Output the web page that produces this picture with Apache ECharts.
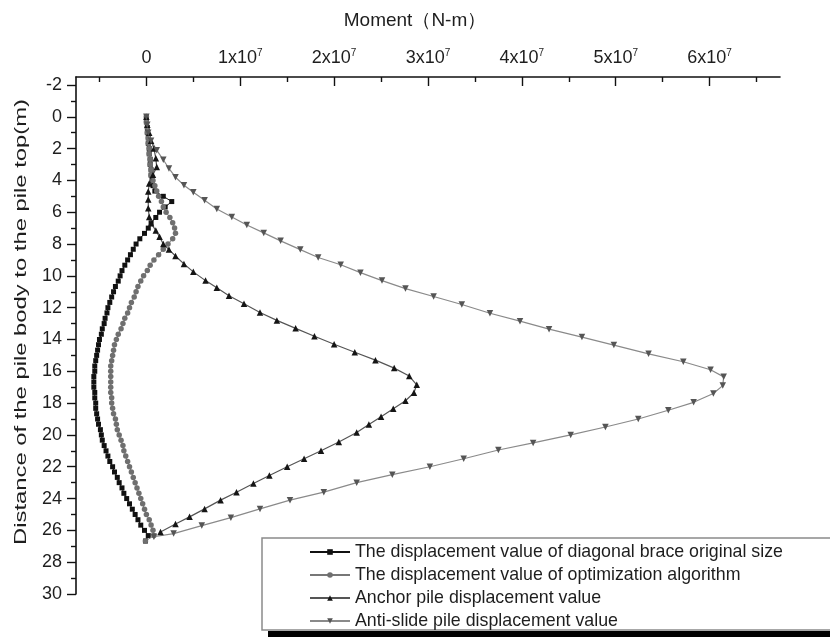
<!DOCTYPE html>
<html>
<head>
<meta charset="utf-8">
<script src="https://cdn.jsdelivr.net/npm/echarts@6/dist/echarts.min.js"></script>
<style>
  html, body { margin: 0; padding: 0; background: #fff; }
  #chart { width: 830px; height: 637px; }
</style>
</head>
<body>
<div id="chart"></div>
<script>
// Bending moment along the pile, moments given in units of 1x10^7 N·m
const UNIT = 1e7;

// Node depths (m) shared by the two brace curves
const braceDepth = [0, 0.33, 0.67, 1.0, 1.33, 1.67, 2.0, 2.33, 2.67, 3.0, 3.33, 3.67, 4.0, 4.33, 4.67,
  5.0, 5.33, 5.67, 6.0, 6.33, 6.67, 7.0, 7.33, 7.67, 8.0, 8.33, 8.67, 9.0, 9.33, 9.67,
  10.0, 10.33, 10.67, 11.0, 11.33, 11.67, 12.0, 12.33, 12.67, 13.0, 13.33, 13.67, 14.0, 14.33, 14.67,
  15.0, 15.33, 15.67, 16.0, 16.33, 16.67, 17.0, 17.33, 17.67, 18.0, 18.33, 18.67, 19.0, 19.33, 19.67,
  20.0, 20.33, 20.67, 21.0, 21.33, 21.67, 22.0, 22.33, 22.67, 23.0, 23.33, 23.67, 24.0, 24.33, 24.67,
  25.0, 25.33, 25.67, 26.0, 26.33, 26.67];

// Diagonal brace, original size
const originalMoment = [0, 0.00, 0.01, 0.01, 0.02, 0.02, 0.03, 0.03, 0.04, 0.04, 0.05, 0.05, 0.06, 0.07, 0.09,
  0.18, 0.27, 0.20, 0.14, 0.10, 0.05, 0.02, -0.02, -0.07, -0.11, -0.14, -0.17, -0.20, -0.23, -0.26,
  -0.28, -0.30, -0.33, -0.35, -0.37, -0.39, -0.41, -0.42, -0.44, -0.45, -0.47, -0.48, -0.50, -0.51, -0.52,
  -0.53, -0.54, -0.55, -0.55, -0.56, -0.56, -0.56, -0.55, -0.55, -0.54, -0.54, -0.53, -0.52, -0.51, -0.49,
  -0.48, -0.47, -0.45, -0.43, -0.41, -0.39, -0.36, -0.34, -0.31, -0.29, -0.26, -0.24, -0.21, -0.18, -0.15,
  -0.12, -0.09, -0.06, -0.02, 0.02, -0.01];

// Diagonal brace after the optimization algorithm
const optimizedMoment = [0, 0.00, 0.01, 0.01, 0.02, 0.02, 0.03, 0.03, 0.04, 0.04, 0.05, 0.05, 0.07, 0.09, 0.11,
  0.13, 0.16, 0.18, 0.21, 0.25, 0.28, 0.30, 0.31, 0.28, 0.23, 0.18, 0.13, 0.08, 0.04, 0.01,
  -0.03, -0.06, -0.09, -0.11, -0.13, -0.16, -0.18, -0.20, -0.23, -0.25, -0.27, -0.30, -0.32, -0.34, -0.35,
  -0.36, -0.37, -0.38, -0.38, -0.38, -0.38, -0.38, -0.38, -0.37, -0.37, -0.36, -0.35, -0.33, -0.32, -0.31,
  -0.29, -0.27, -0.25, -0.24, -0.22, -0.20, -0.18, -0.16, -0.14, -0.12, -0.10, -0.08, -0.06, -0.04, -0.02,
  0.00, 0.03, 0.05, 0.07, 0.08, -0.01];

// Anchor pile
const anchorDepth = [0, 0.5, 1.0, 1.5, 2.0, 2.6, 3.15, 3.65, 4.2, 4.7, 5.2, 5.75, 6.3, 6.7, 7.15, 7.55, 8.0, 8.35,
  8.75, 9.25, 9.75, 10.3, 10.75, 11.25, 11.75, 12.3, 12.8, 13.3, 13.8, 14.3, 14.8, 15.3, 15.8, 16.3, 16.85,
  17.35, 17.85, 18.35, 18.85, 19.35, 19.85, 20.45, 21.0, 21.5, 22.0, 22.55, 23.05, 23.6, 24.1, 24.65, 25.15,
  25.6, 26.1];
const anchorMoment = [0, 0.01, 0.03, 0.05, 0.08, 0.10, 0.11, 0.07, 0.03, 0.02, 0.02, 0.02, 0.03, 0.05, 0.10, 0.14, 0.18, 0.24,
  0.31, 0.40, 0.50, 0.63, 0.75, 0.88, 1.04, 1.21, 1.39, 1.59, 1.79, 2.00, 2.22, 2.44, 2.64, 2.80, 2.88,
  2.85, 2.76, 2.63, 2.50, 2.37, 2.24, 2.05, 1.86, 1.68, 1.50, 1.31, 1.14, 0.96, 0.79, 0.62, 0.46,
  0.31, 0.15];

// Anti-slide pile
const antiSlideDepth = [0, 0.5, 1.0, 1.5, 2.1, 2.7, 3.25, 3.8, 4.3, 4.75, 5.25, 5.8, 6.3, 6.8, 7.3, 7.8, 8.35, 8.85,
  9.3, 9.8, 10.3, 10.8, 11.3, 11.8, 12.35, 12.85, 13.35, 13.85, 14.35, 14.9, 15.4, 15.9, 16.35, 16.9,
  17.4, 17.95, 18.45, 19.0, 19.5, 20.0, 20.5, 20.95, 21.5, 22.0, 22.5, 23.0, 23.6, 24.1, 24.65, 25.2,
  25.7, 26.2, 26.4];
const antiSlideMoment = [0, 0.01, 0.02, 0.05, 0.11, 0.18, 0.24, 0.31, 0.40, 0.50, 0.62, 0.75, 0.91, 1.07, 1.25, 1.43, 1.64, 1.83,
  2.07, 2.28, 2.51, 2.76, 3.06, 3.36, 3.66, 3.98, 4.29, 4.64, 4.98, 5.35, 5.72, 6.01, 6.15, 6.14,
  6.04, 5.83, 5.56, 5.24, 4.89, 4.52, 4.12, 3.75, 3.38, 3.02, 2.62, 2.24, 1.89, 1.53, 1.21, 0.90,
  0.59, 0.29, 0.08];

const seriesNames = [
  'The displacement value of diagonal brace original size',
  'The displacement value of optimization algorithm',
  'Anchor pile displacement value',
  'Anti-slide pile displacement value'
];

// Axis titles, ticks and labels
const xTitle = 'Moment\uFF08N-m\uFF09';
const yTitle = 'Distance of the pile body to the pile top(m)';
const momentTicks = [0, 1, 2, 3, 4, 5, 6];
const momentMinorTicks = [-0.5, 0.5, 1.5, 2.5, 3.5, 4.5, 5.5, 6.5];
const depthTicks = [-2, 0, 2, 4, 6, 8, 10, 12, 14, 16, 18, 20, 22, 24, 26, 28, 30];
const depthMinorTicks = [-1, 1, 3, 5, 7, 9, 11, 13, 15, 17, 19, 21, 23, 25, 27, 29];

const FONT = '"Liberation Sans", Arial, sans-serif';
const TEXT = '#1e1e1e';

function pairs(depths, moments) {
  return depths.map((d, i) => [moments[i] * UNIT, d]);
}
const xMin = -0.75 * UNIT, xMax = 6.75 * UNIT;
const yMin = -2.5, yMax = 30;

const chart = echarts.init(document.getElementById('chart'), null, { renderer: 'canvas' });

const option = {
  backgroundColor: '#fff',
  animation: false,
  title: {
    text: xTitle,
    left: 'center',
    top: 6,
    textStyle: { fontFamily: FONT, fontSize: 19, fontWeight: 'normal', color: TEXT }
  },
  grid: { left: 76, top: 77, width: 704, height: 517 },
  xAxis: [
    {
      type: 'value', position: 'top', min: xMin, max: xMax,
      axisLine: { show: true, onZero: false, lineStyle: { color: '#111', width: 1.6 } },
      axisTick: { show: true, inside: true, length: 9, customValues: momentTicks.map(v => v * UNIT),
        lineStyle: { color: '#111', width: 1.4 } },
      axisLabel: {
        show: true, margin: 9, customValues: momentTicks.map(v => v * UNIT),
        fontFamily: FONT, fontSize: 18, color: TEXT,
        formatter: v => v === 0 ? '{b|0}' : '{b|' + Math.round(v / UNIT) + 'x10}{sup|7}',
        rich: {
          b: { fontFamily: FONT, fontSize: 18, color: TEXT, lineHeight: 20 },
          sup: { fontFamily: FONT, fontSize: 10, color: TEXT, lineHeight: 10, verticalAlign: 'top' }
        }
      },
      splitLine: { show: false }
    },
    {
      type: 'value', position: 'top', min: xMin, max: xMax,
      axisLine: { show: false, onZero: false },
      axisTick: { show: true, inside: true, length: 5, customValues: momentMinorTicks.map(v => v * UNIT),
        lineStyle: { color: '#111', width: 1.4 } },
      axisLabel: { show: false },
      splitLine: { show: false }
    }
  ],
  yAxis: [
    {
      type: 'value', inverse: true, position: 'left', min: yMin, max: yMax,
      axisLine: { show: true, onZero: false, lineStyle: { color: '#111', width: 1.6 } },
      axisTick: { show: true, inside: false, length: 9, customValues: depthTicks,
        lineStyle: { color: '#111', width: 1.4 } },
      axisLabel: { show: true, margin: 14, customValues: depthTicks,
        fontFamily: FONT, fontSize: 18, color: TEXT },
      splitLine: { show: false }
    },
    {
      type: 'value', inverse: true, position: 'left', min: yMin, max: yMax,
      axisLine: { show: false, onZero: false },
      axisTick: { show: true, inside: false, length: 5, customValues: depthMinorTicks,
        lineStyle: { color: '#111', width: 1.4 } },
      axisLabel: { show: false },
      splitLine: { show: false }
    }
  ],
  legend: {
    orient: 'vertical',
    left: 309, top: 543,
    padding: 0,
    itemWidth: 40, itemHeight: 7, itemGap: 5,
    textStyle: { fontFamily: FONT, fontSize: 17.8, color: TEXT },
    data: seriesNames,
    z: 10
  },
  graphic: [
    // vertical axis title, drawn wide along its reading direction
    {
      type: 'text', x: 21, y: 322, rotation: Math.PI / 2, scaleX: 1.4, z: 10,
      style: { text: yTitle, font: '17px "Liberation Sans", Arial, sans-serif', fill: TEXT,
        align: 'center', verticalAlign: 'middle' }
    },
    // legend frame with its dark drop edge
    { type: 'rect', z: 1, shape: { x: 268, y: 631, width: 580, height: 7 }, style: { fill: '#000' } },
    { type: 'rect', z: 2, shape: { x: 262, y: 538, width: 600, height: 92 }, style: { fill: '#fff', stroke: '#8a8a8a', lineWidth: 1.5 } }
  ],
  series: [
    {
      name: seriesNames[0], type: 'line', data: pairs(braceDepth, originalMoment),
      symbol: 'rect', symbolSize: 5, showAllSymbol: true,
      lineStyle: { color: '#111', width: 1 }, itemStyle: { color: '#111' }, z: 3
    },
    {
      name: seriesNames[1], type: 'line', data: pairs(braceDepth, optimizedMoment),
      symbol: 'circle', symbolSize: 5.5, showAllSymbol: true,
      lineStyle: { color: '#777', width: 1 }, itemStyle: { color: '#6f6f6f' }, z: 4
    },
    {
      name: seriesNames[2], type: 'line', data: pairs(anchorDepth, anchorMoment),
      symbol: 'triangle', symbolSize: 6.5, showAllSymbol: true,
      lineStyle: { color: '#555', width: 1.2 }, itemStyle: { color: '#151515' }, z: 5
    },
    {
      name: seriesNames[3], type: 'line', data: pairs(antiSlideDepth, antiSlideMoment),
      symbol: 'triangle', symbolRotate: 180, symbolSize: 6.5, showAllSymbol: true,
      lineStyle: { color: '#8a8a8a', width: 1.2 }, itemStyle: { color: '#555' }, z: 5
    }
  ]
};

chart.setOption(option);
</script>
</body>
</html>
